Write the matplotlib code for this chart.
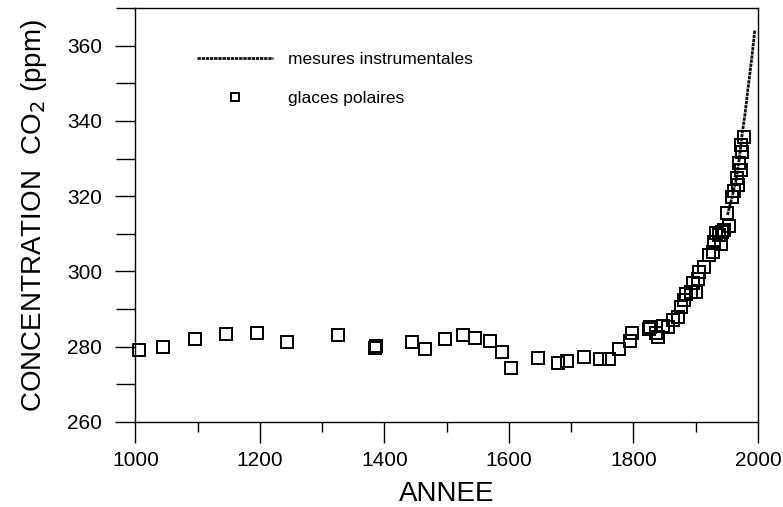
import matplotlib
matplotlib.use("Agg")
import matplotlib.pyplot as plt
from matplotlib.ticker import MultipleLocator

plt.rcParams['font.family'] = ['Liberation Sans', 'DejaVu Sans']

# carottes de glace (annee, ppm)
annees_glace = [1005, 1044, 1096, 1145, 1195, 1244, 1326, 1385, 1387, 1445,
                1465, 1498, 1526, 1546, 1570, 1589, 1604, 1647, 1679, 1693,
                1720, 1746, 1761, 1777, 1795, 1797, 1825, 1826, 1836, 1840,
                1847, 1855, 1863, 1871, 1876, 1882, 1885, 1892, 1895, 1900,
                1903, 1906, 1914, 1922, 1927, 1930, 1933, 1938, 1941, 1943,
                1946, 1951, 1954, 1959, 1962, 1966, 1968, 1970, 1972, 1973,
                1975, 1978]
co2_glace = [279.1, 279.9, 281.9, 283.3, 283.5, 281.3, 283.1, 279.7, 280.2, 281.3,
             279.3, 281.9, 283.0, 282.4, 281.5, 278.5, 274.2, 276.9, 275.7, 276.2,
             277.3, 276.7, 276.6, 279.3, 281.5, 283.5, 284.6, 285.3, 283.5, 282.6,
             285.5, 285.3, 287.0, 287.9, 290.4, 292.4, 294.1, 294.6, 296.8, 294.6,
             298.1, 299.9, 301.2, 304.3, 305.2, 307.9, 310.1, 309.7, 307.2, 310.5,
             311.0, 315.4, 312.0, 319.8, 321.5, 324.7, 322.9, 328.7, 326.9, 333.6,
             331.8, 335.7]

# mesures directes
annees_instr = [1951, 1958, 1965, 1970, 1975, 1979, 1984, 1990, 1995]
co2_instr = [315.0, 319.5, 324.3, 330.0, 337.0, 341.5, 348.6, 356.6, 364.2]

fig = plt.figure(figsize=(7.83, 5.07), dpi=100)
ax = fig.add_axes([0.173, 0.168, 0.795, 0.816])

ax.plot(annees_instr, co2_instr, color='#111111', lw=2.0,
        linestyle=(0, (1.2, 0.3)), label='mesures instrumentales', zorder=3)
ax.plot(annees_glace, co2_glace, 's', ms=8.5, mfc='none', mec='black',
        mew=1.4, clip_on=False, label='glaces polaires', zorder=4)

ax.set_xlim(1000, 2000)
ax.set_ylim(260, 370)
ax.xaxis.set_major_locator(MultipleLocator(200))
ax.xaxis.set_minor_locator(MultipleLocator(100))
ax.yaxis.set_major_locator(MultipleLocator(20))
ax.yaxis.set_minor_locator(MultipleLocator(10))

ax.tick_params(axis='x', which='major', direction='out', length=15, width=1.0,
               labelsize=15, pad=6)
ax.tick_params(axis='x', which='minor', direction='out', length=7.5, width=1.0)
ax.tick_params(axis='y', which='major', direction='out', length=14.5, width=1.0,
               labelsize=15, pad=9.5)
ax.tick_params(axis='y', which='minor', direction='out', length=14, width=1.0)
for s in ax.spines.values():
    s.set_linewidth(1.0)

ax.set_xlabel('ANNEE', fontsize=20, labelpad=8)
ax.set_ylabel(r'CONCENTRATION  CO$_2$ (ppm)', fontsize=20, labelpad=13)

leg = ax.legend(loc='upper left', bbox_to_anchor=(0.073, 0.932), frameon=False,
                fontsize=12.5, handlelength=4.4, handletextpad=0.85,
                labelspacing=1.35, markerscale=0.75)

fig.savefig('out.png', dpi=100)
